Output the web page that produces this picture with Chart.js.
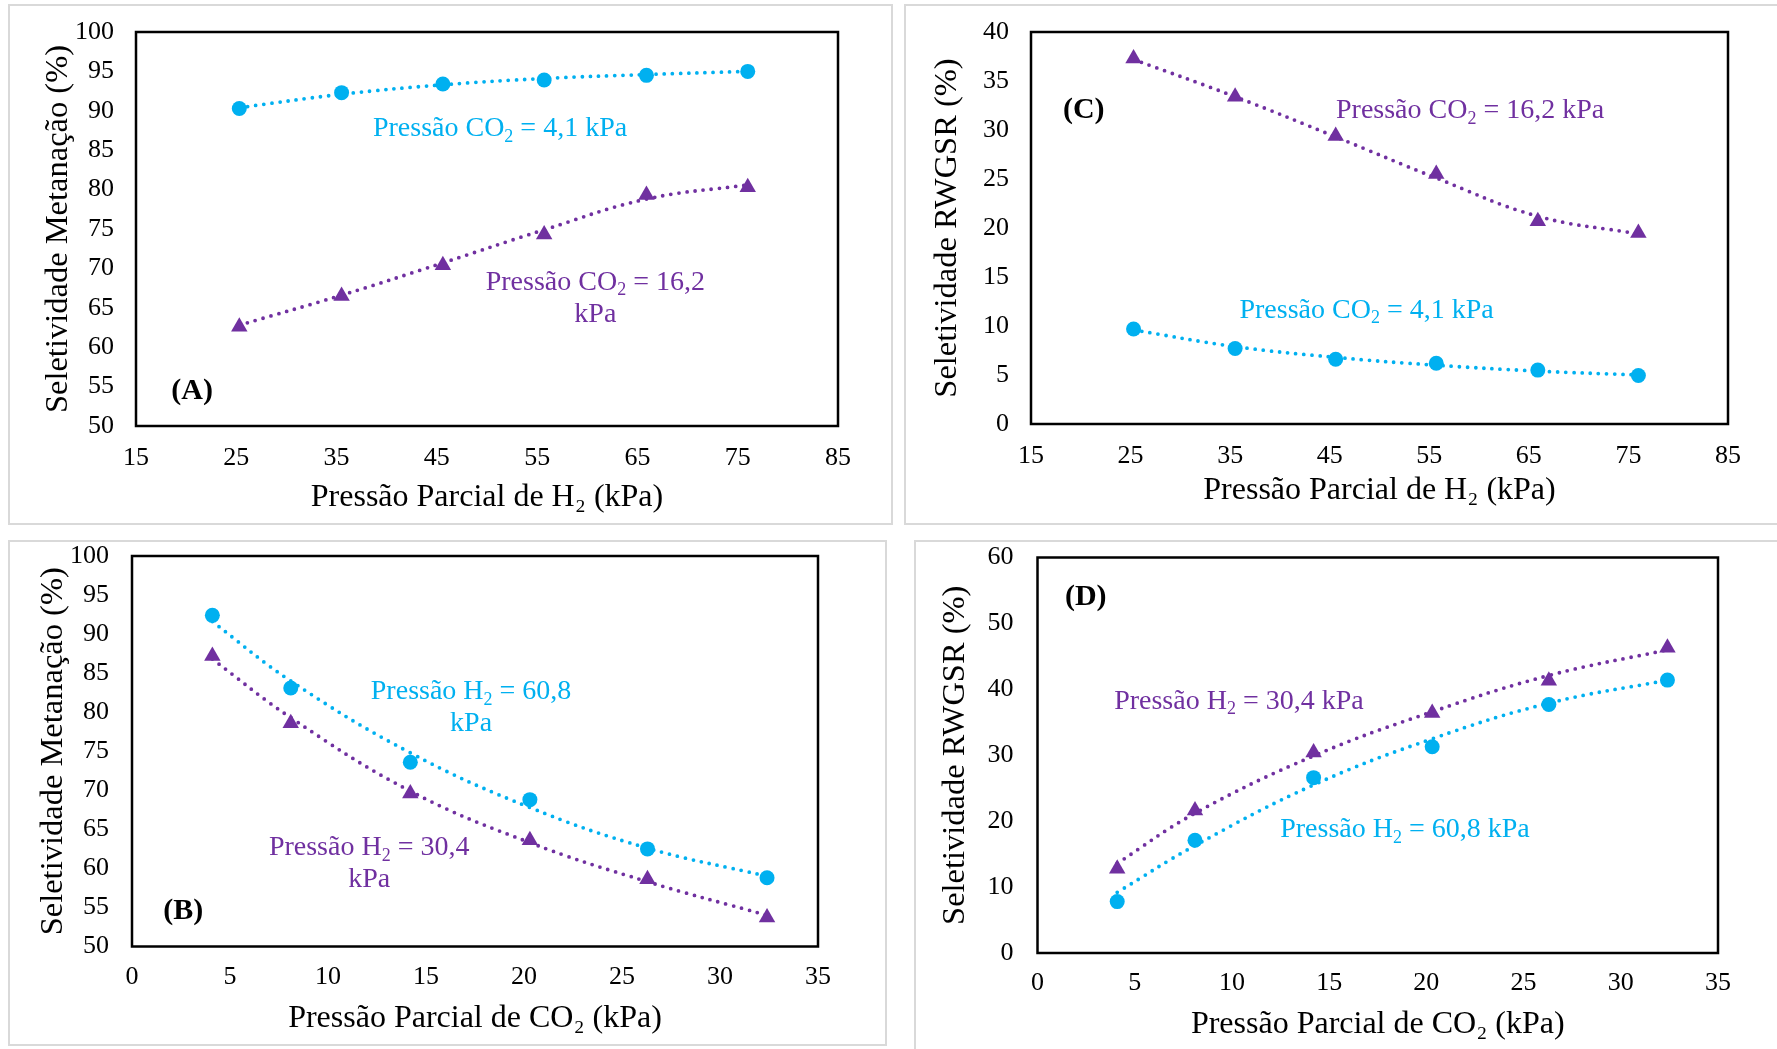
<!DOCTYPE html>
<html>
<head>
<meta charset="utf-8">
<script src="https://cdn.jsdelivr.net/npm/chart.js@4.4.0/dist/chart.umd.min.js"></script>
<style>
  body { margin: 0; background: #fff; width: 1777px; height: 1049px; overflow: hidden; position: relative; }
  .frame { position: absolute; border: 2px solid #d9d9d9; box-sizing: border-box; }
  canvas { position: absolute; }
</style>
</head>
<body>
<div class="frame" style="left:8px;top:4px;width:885px;height:521px"></div>
<div class="frame" style="left:904px;top:4px;width:900px;height:521px"></div>
<div class="frame" style="left:8px;top:540px;width:879px;height:506px"></div>
<div class="frame" style="left:914px;top:540px;width:900px;height:600px"></div>

<canvas id="cA" width="890" height="540" style="left:0;top:-10px"></canvas>
<canvas id="cC" width="887" height="540" style="left:890px;top:-10px"></canvas>
<canvas id="cB" width="890" height="535" style="left:0;top:514px"></canvas>
<canvas id="cD" width="887" height="534" style="left:890px;top:515px"></canvas>

<script>
// ── Dados ─────────────────────────────────────────────────────────────────────
const pressaoH2  = [25.3, 35.5, 45.6, 55.7, 65.9, 76.0];
const pressaoCO2 = [4.1, 8.1, 14.2, 20.3, 26.3, 32.4];

// (A) seletividade metanação vs H2
const metA_co2_41  = [90.3, 92.3, 93.4, 93.9, 94.5, 95.0];
const metA_co2_162 = [62.6, 66.5, 70.4, 74.3, 79.3, 80.3];
const metA_co2_41_tend  = [90.4, 92.1, 93.3, 94.1, 94.6, 95.0];
const metA_co2_162_tend = [62.8, 66.6, 70.7, 74.9, 78.8, 80.6];

// (C) seletividade RWGSR vs H2
const rwC_co2_162 = [37.3, 33.4, 29.4, 25.5, 20.7, 19.5];
const rwC_co2_41  = [9.7, 7.7, 6.6, 6.2, 5.5, 4.95];
const rwC_co2_162_tend = [37.2, 33.4, 29.3, 25.1, 21.2, 19.4];
const rwC_co2_41_tend  = [9.6, 7.9, 6.8, 6.0, 5.4, 5.0];

// (B) seletividade metanação vs CO2
const metB_h2_608 = [92.4, 83.1, 73.6, 68.8, 62.5, 58.8];
const metB_h2_304 = [87.2, 78.6, 69.6, 63.6, 58.6, 53.7];
const metB_h2_608_tend = [91.6, 84.0, 74.8, 67.8, 62.6, 59.0];
const metB_h2_304_tend = [86.8, 79.3, 69.9, 63.3, 58.3, 54.0];

// (D) seletividade RWGSR vs CO2
const rwD_h2_304 = [12.8, 21.6, 30.4, 36.4, 41.3, 46.3];
const rwD_h2_608 = [7.8, 17.1, 26.6, 31.3, 37.7, 41.4];
const rwD_h2_304_tend = [13.6, 21.2, 29.9, 36.6, 42.1, 46.0];
const rwD_h2_608_tend = [9.2, 16.3, 25.5, 32.5, 37.9, 41.4];

const AZUL = "#00B0F0";
const ROXO = "#7030A0";
const FONTE = "'Liberation Serif', 'Times New Roman', serif";

// ── Texto com subscrito ("_2") ────────────────────────────────────────────────
function drawRich(ctx, text, cx, cy, size, color, bold) {
  const parts = text.split(/(_\d)/).filter(p => p !== "");
  const w = bold ? "bold " : "";
  const subSize = Math.round(size * 0.65);
  let total = 0;
  const segs = parts.map(p => {
    const sub = p.startsWith("_");
    const t = sub ? p.slice(1) : p;
    ctx.font = w + (sub ? subSize : size) + "px " + FONTE;
    const width = ctx.measureText(t).width;
    total += width;
    return { t, sub, width };
  });
  let x = cx - total / 2;
  ctx.fillStyle = color;
  ctx.textAlign = "left";
  ctx.textBaseline = "middle";
  segs.forEach(s => {
    ctx.font = w + (s.sub ? subSize : size) + "px " + FONTE;
    ctx.fillText(s.t, x, s.sub ? cy + size * 0.3 : cy);
    x += s.width;
  });
}

const pts = (xs, ys) => xs.map((x, i) => ({ x, y: ys[i] }));

// ── Plugin: moldura do gráfico e rótulos ──────────────────────────────────────
const extras = {
  id: "extras",
  afterDatasetsDraw(chart, args, opts) {
    const { ctx, chartArea: a, scales } = chart;
    ctx.save();
    ctx.strokeStyle = "#000";
    ctx.lineWidth = 2.5;
    ctx.strokeRect(a.left, a.top, a.right - a.left, a.bottom - a.top);
    (opts.labels || []).forEach(l => {
      const px = scales.x.getPixelForValue(l.x);
      const py = scales.y.getPixelForValue(l.y);
      const n = l.lines.length;
      l.lines.forEach((t, i) => {
        drawRich(ctx, t, px, py + (i - (n - 1) / 2) * 32, l.size || 28, l.color, l.bold);
      });
    });
    ctx.restore();
  }
};

// ── Monta um painel ───────────────────────────────────────────────────────────
function painel(cfg) {
  const datasets = [];
  cfg.series.forEach(s => {
    datasets.push({
      data: pts(cfg.xs, s.y),
      showLine: false,
      pointStyle: s.shape,
      pointRadius: s.shape === "triangle" ? 9.5 : 7.5,
      pointBackgroundColor: s.color,
      pointBorderWidth: 0
    });
  });
  // linhas de tendência pontilhadas (atrás dos marcadores)
  cfg.series.forEach(s => {
    datasets.push({
      data: pts(cfg.xs, s.tend),
      showLine: true,
      borderColor: s.color,
      borderWidth: 3.8,
      borderDash: [0, 8.2],
      borderCapStyle: "round",
      tension: 0.4,
      pointRadius: 0,
      fill: false
    });
  });

  new Chart(document.getElementById(cfg.id), {
    type: "scatter",
    data: { datasets },
    options: {
      responsive: false,
      animation: false,
      devicePixelRatio: 1,
      layout: { padding: cfg.pad },
      plugins: {
        legend: { display: false },
        tooltip: { enabled: false },
        extras: { labels: cfg.labels }
      },
      scales: {
        x: {
          type: "linear",
          min: cfg.xMin, max: cfg.xMax,
          afterFit: s => { s.height = cfg.xH; },
          grid: { display: false, drawTicks: false },
          border: { display: false },
          ticks: { stepSize: cfg.xStep, padding: cfg.xTickPad, color: "#000", font: { family: FONTE, size: 26 }, maxRotation: 0 },
          title: { display: true, text: cfg.xTitle, color: "#000", padding: 0, font: { family: FONTE, size: 32 } }
        },
        y: {
          type: "linear",
          min: cfg.yMin, max: cfg.yMax,
          afterFit: s => { s.width = cfg.yW; },
          grid: { display: false, drawTicks: false },
          border: { display: false },
          ticks: { stepSize: cfg.yStep, padding: cfg.yTickPad, color: "#000", font: { family: FONTE, size: 26 } },
          title: { display: true, text: cfg.yTitle, color: "#000", padding: { top: cfg.yTitlePad }, font: { family: FONTE, size: 32.5 } }
        }
      }
    },
    plugins: [extras]
  });
}

painel({
  id: "cA", xs: pressaoH2,
  xMin: 15, xMax: 85, xStep: 10, yMin: 50, yMax: 100, yStep: 5,
  pad: { left: 20, top: 42, right: 52, bottom: 13 },
  yW: 116, yTitlePad: 18.5, xH: 91, yTickPad: 22, xTickPad: 16.4,
  xTitle: "Pressão Parcial de H₂ (kPa)", yTitle: "Seletividade Metanação (%)",
  series: [
    { y: metA_co2_41, tend: metA_co2_41_tend, color: AZUL, shape: "circle" },
    { y: metA_co2_162, tend: metA_co2_162_tend, color: ROXO, shape: "triangle" }
  ],
  labels: [
    { lines: ["Pressão CO_2 = 4,1 kPa"], x: 51.3, y: 87.7, color: AZUL },
    { lines: ["Pressão CO_2 = 16,2", "kPa"], x: 60.8, y: 66.2, color: ROXO },
    { lines: ["(A)"], x: 20.6, y: 54.4, color: "#000", bold: true, size: 30 }
  ]
});

painel({
  id: "cC", xs: pressaoH2,
  xMin: 15, xMax: 85, xStep: 10, yMin: 0, yMax: 40, yStep: 5,
  pad: { left: 20, top: 42, right: 49, bottom: 20.4 },
  yW: 121, yTitlePad: 17.5, xH: 85.6, yTickPad: 22, xTickPad: 16.9,
  xTitle: "Pressão Parcial de H₂ (kPa)", yTitle: "Seletividade RWGSR (%)",
  series: [
    { y: rwC_co2_41, tend: rwC_co2_41_tend, color: AZUL, shape: "circle" },
    { y: rwC_co2_162, tend: rwC_co2_162_tend, color: ROXO, shape: "triangle" }
  ],
  labels: [
    { lines: ["Pressão CO_2 = 16,2 kPa"], x: 59.1, y: 32.0, color: ROXO },
    { lines: ["Pressão CO_2 = 4,1 kPa"], x: 48.7, y: 11.6, color: AZUL },
    { lines: ["(C)"], x: 20.3, y: 32.0, color: "#000", bold: true, size: 30 }
  ]
});

painel({
  id: "cB", xs: pressaoCO2,
  xMin: 0, xMax: 35, xStep: 5, yMin: 50, yMax: 100, yStep: 5,
  pad: { left: 20, top: 42, right: 72, bottom: 11.5 },
  yW: 112, yTitlePad: 13.9, xH: 91, yTickPad: 23, xTickPad: 15.4,
  xTitle: "Pressão Parcial de CO₂ (kPa)", yTitle: "Seletividade Metanação (%)",
  series: [
    { y: metB_h2_608, tend: metB_h2_608_tend, color: AZUL, shape: "circle" },
    { y: metB_h2_304, tend: metB_h2_304_tend, color: ROXO, shape: "triangle" }
  ],
  labels: [
    { lines: ["Pressão H_2 = 60,8", "kPa"], x: 17.3, y: 80.6, color: AZUL },
    { lines: ["Pressão H_2 = 30,4", "kPa"], x: 12.1, y: 60.6, color: ROXO },
    { lines: ["(B)"], x: 2.62, y: 54.5, color: "#000", bold: true, size: 30 }
  ]
});

painel({
  id: "cD", xs: pressaoCO2,
  xMin: 0, xMax: 35, xStep: 5, yMin: 0, yMax: 60, yStep: 10,
  pad: { left: 20, top: 42.5, right: 59, bottom: 5.4 },
  yW: 127.5, yTitlePad: 26, xH: 90.6, yTickPad: 24, xTickPad: 14.8,
  xTitle: "Pressão Parcial de CO₂ (kPa)", yTitle: "Seletividade RWGSR (%)",
  series: [
    { y: rwD_h2_608, tend: rwD_h2_608_tend, color: AZUL, shape: "circle" },
    { y: rwD_h2_304, tend: rwD_h2_304_tend, color: ROXO, shape: "triangle" }
  ],
  labels: [
    { lines: ["Pressão H_2 = 30,4 kPa"], x: 10.36, y: 38.2, color: ROXO },
    { lines: ["Pressão H_2 = 60,8 kPa"], x: 18.9, y: 18.7, color: AZUL },
    { lines: ["(D)"], x: 2.48, y: 53.9, color: "#000", bold: true, size: 30 }
  ]
});
</script>
</body>
</html>
